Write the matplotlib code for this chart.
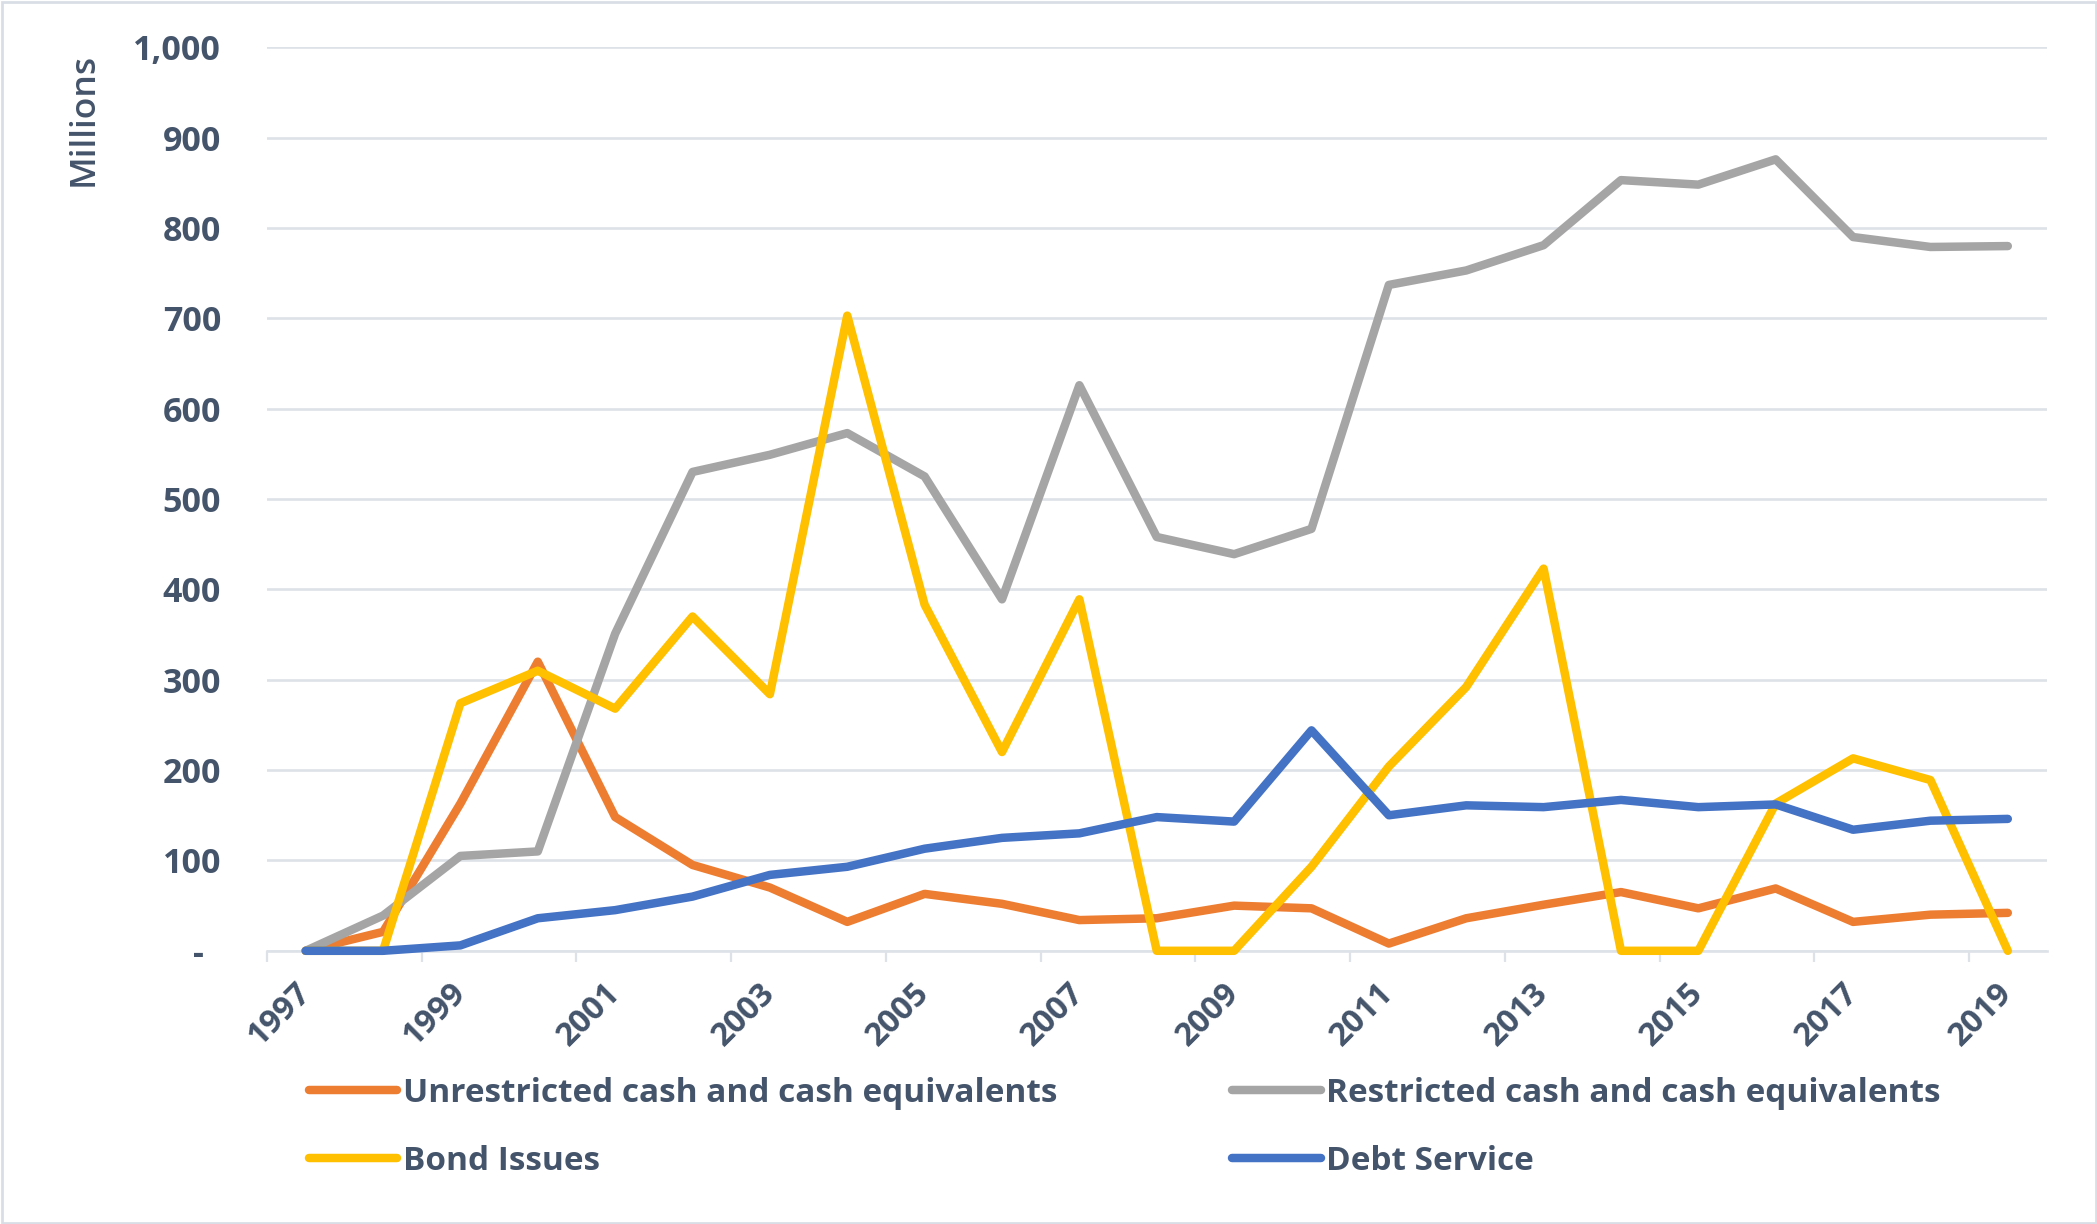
import matplotlib
matplotlib.use("Agg")
import matplotlib.pyplot as plt
from matplotlib.lines import Line2D
from matplotlib.patches import Rectangle
import numpy as np

# Annual balances, millions
years = list(range(1997, 2020))
unrestricted = [0, 21, 163, 320, 148, 95, 70, 32, 63, 52, 34, 36, 50, 47,
                8, 36, 51, 65, 47, 69, 32, 40, 42]
restricted = [0, 39, 105, 110, 351, 530, 549, 573, 525, 389, 626, 458, 439,
              467, 737, 753, 781, 853, 848, 876, 790, 779, 780]
bond_issues = [0, 0, 274, 310, 268, 370, 284, 703, 383, 220, 389, 0, 0, 93,
               204, 292, 423, 0, 0, 163, 213, 189, 0]
debt_service = [0, 0, 6, 36, 45, 60, 84, 93, 113, 125, 130, 148, 143, 244,
                150, 161, 159, 167, 159, 162, 134, 144, 146]

series_names = ["Unrestricted cash and cash equivalents",
                "Restricted cash and cash equivalents",
                "Bond Issues", "Debt Service"]
series_colors = ["#ED7D31", "#A5A5A5", "#FFC000", "#4472C4"]

y_ticks = [0, 100, 200, 300, 400, 500, 600, 700, 800, 900, 1000]
y_tick_labels = ["-  ", "100", "200", "300", "400", "500", "600", "700",
                 "800", "900", "1,000"]

TEXT = "#44546A"
GRID = "#DDE2E9"
FONT = ["Open Sans", "DejaVu Sans"]
plt.rcParams["font.family"] = FONT

W, H = 2097, 1224
fig = plt.figure(figsize=(W / 100, H / 100), dpi=100)
fig.patch.set_facecolor("white")

left, right, top, bottom = 267, 2046.5, 47.3, 950.8
ax = fig.add_axes([left / W, 1 - bottom / H, (right - left) / W, (bottom - top) / H])

x = np.arange(len(years))
for vals, name, col in zip([unrestricted, restricted, bond_issues, debt_service],
                           series_names, series_colors):
    ax.plot(x, vals, color=col, lw=6.1, solid_capstyle="round",
            solid_joinstyle="round", clip_on=False, zorder=3, label=name)

ax.set_xlim(-0.5, len(years) - 0.5)
ax.set_ylim(0, 1000)

# y axis
ax.set_yticks(y_ticks)
ax.set_yticklabels(y_tick_labels)
ax.tick_params(axis="y", length=0, pad=33, labelsize=24.5, labelcolor=TEXT)
for t in ax.get_yticklabels():
    t.set_fontweight("bold")
ax.yaxis.grid(True, color=GRID, lw=1.9)
ax.set_axisbelow(True)

# x axis: tick marks between category pairs, labels on every other year
ax.set_xticks(np.arange(-0.5, len(years) - 1, 2))
ax.set_xticklabels([])
ax.tick_params(axis="x", which="major", length=8, width=1.6, color=GRID)
label_pos = np.arange(0, len(years), 2)
ax.set_xticks(label_pos, minor=True)
ax.set_xticklabels([str(years[i]) for i in label_pos], minor=True,
                   rotation=45, ha="right", va="center", rotation_mode="anchor",
                   fontsize=23.5, fontweight="bold", color=TEXT)
ax.tick_params(axis="x", which="minor", length=0, pad=27)

for s in ["left", "right", "top"]:
    ax.spines[s].set_visible(False)
ax.spines["bottom"].set_color(GRID)
ax.spines["bottom"].set_linewidth(1.9)
ax.spines["bottom"].set_zorder(1)

fig.text(84 / W, 1 - 119 / H, "Millions", rotation=90, ha="center", va="center",
         fontsize=25.5, fontweight="semibold", color=TEXT)

# legend, two rows by two columns
handles = [Line2D([], [], color=c, lw=6.1, solid_capstyle="round") for c in series_colors]
order = [0, 2, 1, 3]
leg = fig.legend([handles[i] for i in order], [series_names[i] for i in order],
                 ncol=2, loc="upper left", bbox_to_anchor=(309 / W, 1 - 1077 / H),
                 bbox_transform=fig.transFigure, frameon=False, fontsize=24,
                 handlelength=2.65, handletextpad=0.17, columnspacing=5.25,
                 labelspacing=1.04, borderpad=0, borderaxespad=0)
for t in leg.get_texts():
    t.set_color(TEXT)
    t.set_fontweight("bold")

# chart border
fig.patches.append(Rectangle((1.5 / W, 1.5 / H), (W - 3) / W, (H - 3) / H,
                             transform=fig.transFigure, fill=False,
                             edgecolor="#D9DEE6", lw=2))

fig.savefig("out.png", dpi=100, facecolor="white")
